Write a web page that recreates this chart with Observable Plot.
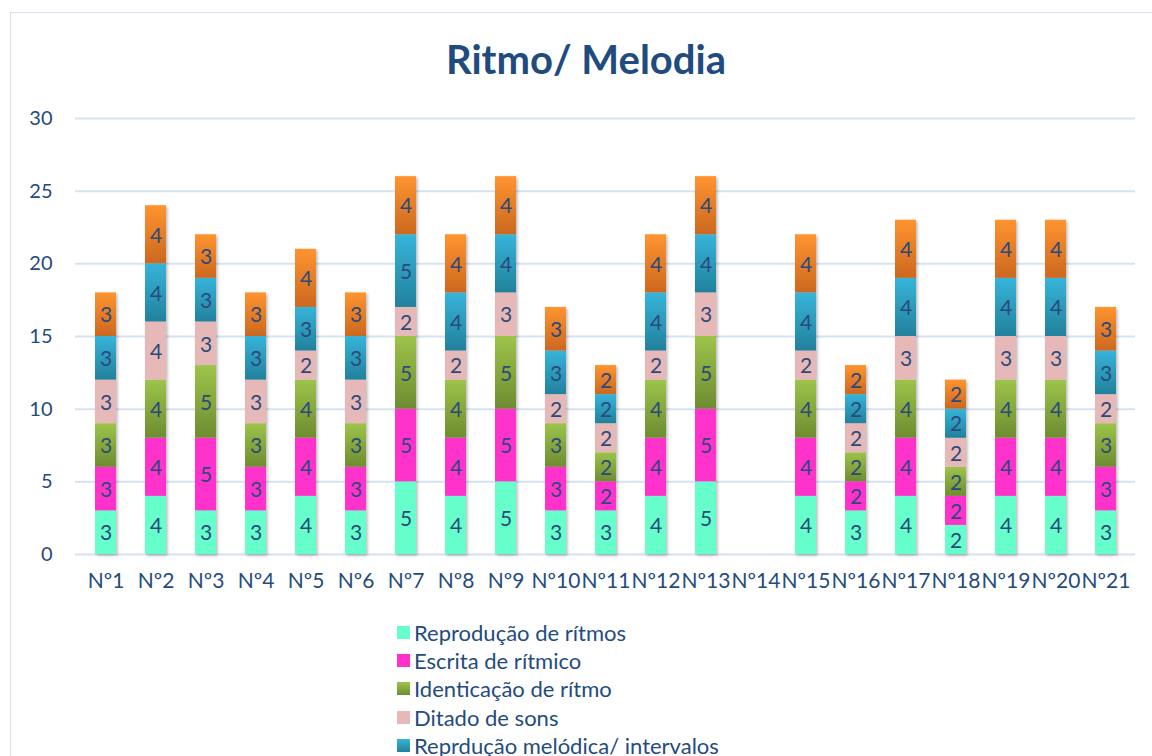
<!DOCTYPE html>
<html>
<head>
<meta charset="utf-8">
<script src="https://cdn.jsdelivr.net/npm/d3@7"></script>
<script src="https://cdn.jsdelivr.net/npm/@observablehq/plot@0.6"></script>
<style>
  html, body { margin: 0; padding: 0; background: #fff; overflow: hidden; }
  body { width: 1152px; height: 756px; position: relative; font-family: Lato, "Open Sans", sans-serif; }
  #frame { position: absolute; left: 10px; top: 12px; width: 1160px; height: 800px; border: 1.5px solid #d6e2f2; box-sizing: border-box; }
  #title { position: absolute; left: 0; width: 1172px; top: 35px; text-align: center; font-size: 40px; font-weight: bold; color: #1f4b7e; line-height: 48px; }
  #chart { position: absolute; left: 0; top: 0; }
  #legend { position: absolute; left: 397px; top: 618px; font-size: 22px; color: #244b7d; }
  .row { height: 28.4px; display: flex; align-items: center; white-space: nowrap; }
  .sw { width: 13px; height: 13px; margin-right: 4px; display: inline-block; }
</style>
</head>
<body>
<div id="frame"></div>
<div id="title">Ritmo/ Melodia</div>
<div id="chart"></div>
<div id="legend"></div>
<script>
const categories = ["Nº1","Nº2","Nº3","Nº4","Nº5","Nº6","Nº7","Nº8","Nº9","Nº10","Nº11","Nº12","Nº13","Nº14","Nº15","Nº16","Nº17","Nº18","Nº19","Nº20","Nº21"];
const seriesNames = ["Reprodução de rítmos","Escrita de rítmico","Identicação de rítmo","Ditado de sons","Reprdução melódica/ intervalos","Série 6"];
const reproducao = [3,4,3,3,4,3,5,4,5,3,3,4,5,null,4,3,4,2,4,4,3];
const escrita    = [3,4,5,3,4,3,5,4,5,3,2,4,5,null,4,2,4,2,4,4,3];
const identic    = [3,4,5,3,4,3,5,4,5,3,2,4,5,null,4,2,4,2,4,4,3];
const ditado     = [3,4,3,3,2,3,2,2,3,2,2,2,3,null,2,2,3,2,3,3,2];
const melodica   = [3,4,3,3,3,3,5,4,4,3,2,4,4,null,4,2,4,2,4,4,3];
const serie6     = [3,4,3,3,4,3,4,4,4,3,2,4,4,null,4,2,4,2,4,4,3];
const yTicks = [0,5,10,15,20,25,30];

const seriesValues = [reproducao, escrita, identic, ditado, melodica, serie6];
const data = [];
seriesNames.forEach((s, si) => {
  categories.forEach((c, ci) => {
    const v = seriesValues[si][ci];
    if (v != null && v > 0) data.push({cat: c, series: s, value: v});
  });
});

const grads = [
  {id: "g0", top: "#66ffcc", bot: "#66ffcc"},
  {id: "g1", top: "#ff33cc", bot: "#ff33cc"},
  {id: "g2", top: "#9dc44a", bot: "#6e8c31"},
  {id: "g3", top: "#e6b9b8", bot: "#e6b9b8"},
  {id: "g4", top: "#36b4da", bot: "#22819c"},
  {id: "g5", top: "#ff9430", bot: "#cc681f"}
];

const defsMark = () => {
  const defs = d3.create("svg:defs");
  grads.forEach(g => {
    const lg = defs.append("linearGradient").attr("id", g.id).attr("x1", 0).attr("y1", 0).attr("x2", 0).attr("y2", 1);
    lg.append("stop").attr("offset", "0%").attr("stop-color", g.top);
    lg.append("stop").attr("offset", "100%").attr("stop-color", g.bot);
  });
  const f = defs.append("filter").attr("id", "shadow").attr("x", "-30%").attr("y", "-10%").attr("width", "160%").attr("height", "130%");
  f.append("feDropShadow").attr("dx", 1.5).attr("dy", 1.5).attr("stdDeviation", 1.5).attr("flood-color", "#000").attr("flood-opacity", 0.28);
  return defs.node();
};

const plot = Plot.plot({
  width: 1152,
  height: 600,
  marginTop: 118,
  marginBottom: 46,
  marginLeft: 75,
  marginRight: 17,
  style: {fontFamily: "Lato, 'Open Sans', sans-serif", fontSize: "21px", color: "#244b7d", background: "transparent", overflow: "visible"},
  x: {domain: categories, paddingInner: 0.585, paddingOuter: 0.29, label: null, tickSize: 0, tickPadding: 19},
  y: {domain: [0, 30], ticks: yTicks, label: null, tickSize: 0, tickPadding: 23},
  color: {domain: seriesNames, range: grads.map(g => `url(#${g.id})`)},
  marks: [
    defsMark,
    Plot.ruleY(yTicks, {stroke: "#d6e2f2", strokeWidth: 2}),
    Plot.barY(data, Plot.stackY({x: "cat", y: "value", z: "series", fill: "series", order: seriesNames, inset: 0})),
    Plot.text(data, Plot.stackY({x: "cat", y: "value", z: "series", order: seriesNames, text: d => String(d.value), fill: "#2b4a7b", fontSize: 21, dy: 1}))
  ]
});
d3.select(plot).selectAll("g[aria-label='bar']").attr("filter", "url(#shadow)");
d3.select(plot).selectAll("g[aria-label='x-axis tick label'] text, g[aria-label='y-axis tick label'] text").attr("fill", "#244b7d");
d3.select(plot).selectAll("g[aria-label='y-axis tick label'] text").attr("font-size", 20);
document.getElementById("chart").appendChild(plot);

const legend = d3.select("#legend");
grads.slice(0, 5).forEach((g, i) => {
  const row = legend.append("div").attr("class", "row");
  row.append("span").attr("class", "sw").style("background", `linear-gradient(${g.top}, ${g.bot})`);
  row.append("span").text(seriesNames[i]);
});
</script>
</body>
</html>
